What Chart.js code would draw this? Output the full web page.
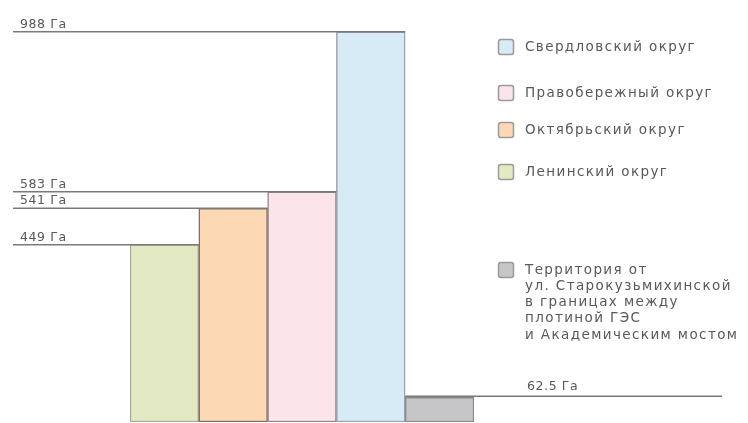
<!DOCTYPE html>
<html>
<head>
<meta charset="utf-8">
<script src="https://cdn.jsdelivr.net/npm/chart.js@4.4.1/dist/chart.umd.min.js"></script>
<style>
	html, body { margin: 0; padding: 0; background: #fff; }
	#wrap { width: 748px; height: 423px; position: relative; }
</style>
</head>
<body>
<div id="wrap"><canvas id="chart"></canvas></div>
<script>
	// ——— Data ———
	var categories = ['Ленинский округ', 'Октябрьский округ', 'Правобережный округ', 'Свердловский округ', 'Территория от ул. Старокузьмихинской'];
	var areaValues = [449, 541, 583, 988, 62.5];
	var valueLabels = ['449 Га', '541 Га', '583 Га', '988 Га', '62.5 Га'];
	var fillColors = ['#e3eac3', '#fdd8b4', '#fbe5ea', '#d7ebf6', '#c6c6c8'];
	var borderColors = ['#a9a99a', '#7c6e66', '#8e8a8c', '#9aa3a8', '#8a8a8c'];
	var legendOrder = [3, 2, 1, 0, 4];
	var legendTexts = [
		['Свердловский округ'],
		['Правобережный округ'],
		['Октябрьский округ'],
		['Ленинский округ'],
		['Территория от', 'ул. Старокузьмихинской', 'в границах между', 'плотиной ГЭС', 'и Академическим мостом']
	];

	var TEXT = '#595959';
	var LINE = '#7a7a7a';

	// ——— Reference lines, value labels and legend ———
	var overlay = {
		id: 'overlay',
		afterDatasetsDraw: function (chart) {
			var ctx = chart.ctx;
			var bars = chart.getDatasetMeta(0).data;
			ctx.save();
			ctx.strokeStyle = LINE;
			ctx.lineWidth = 1.5;
			ctx.fillStyle = TEXT;
			ctx.font = '12.5px "DejaVu Sans", sans-serif';
			ctx.letterSpacing = '0.6px';
			ctx.textBaseline = 'alphabetic';
			bars.forEach(function (bar, i) {
				var left = bar.x - bar.width / 2;
				var right = bar.x + bar.width / 2;
				var y = bar.y;
				ctx.beginPath();
				if (i < 4) {
					ctx.moveTo(13, y);
					ctx.lineTo(right, y);
					ctx.stroke();
					ctx.fillText(valueLabels[i], 20, y - 4);
				} else {
					ctx.moveTo(left, y - 1);
					ctx.lineTo(722, y - 1);
					ctx.stroke();
					ctx.fillText(valueLabels[i], 527, y - 7);
				}
			});

			// legend
			var rows = [47, 93, 130, 172, 270];
			ctx.font = '13.5px "DejaVu Sans", sans-serif';
			ctx.letterSpacing = '1.4px';
			legendOrder.forEach(function (idx, k) {
				var cy = rows[k];
				ctx.fillStyle = fillColors[idx];
				ctx.strokeStyle = '#9a9a9a';
				ctx.lineWidth = 1.5;
				ctx.beginPath();
				ctx.roundRect(498.5, cy - 7.5, 15, 15, 2.5);
				ctx.fill();
				ctx.stroke();
				ctx.fillStyle = TEXT;
				ctx.textBaseline = 'middle';
				legendTexts[k].forEach(function (line, j) {
					ctx.fillText(line, 525, cy + j * 16.3);
				});
			});
			ctx.restore();
		}
	};

	new Chart(document.getElementById('chart'), {
		type: 'bar',
		data: {
			labels: categories,
			datasets: [{
				data: areaValues,
				backgroundColor: fillColors,
				borderColor: borderColors,
				borderWidth: 1.5,
				borderSkipped: false,
				barPercentage: 1,
				categoryPercentage: 1
			}]
		},
		options: {
			responsive: true,
			maintainAspectRatio: false,
			animation: false,
			layout: { padding: { left: 130, right: 274, top: 27, bottom: 1 } },
			plugins: { legend: { display: false }, tooltip: { enabled: false } },
			scales: {
				x: { display: false },
				y: { display: false, min: 0, max: 1000 }
			}
		},
		plugins: [overlay]
	});
</script>
</body>
</html>
